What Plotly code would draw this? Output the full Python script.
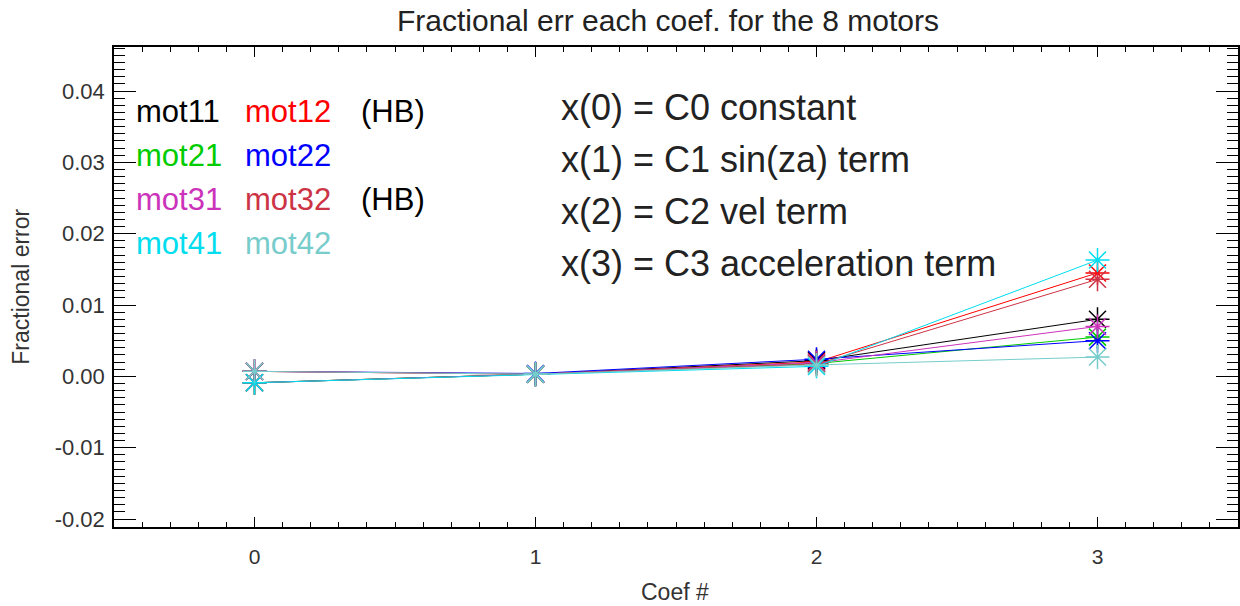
import plotly.graph_objects as go

coef = [0, 1, 2, 3]
mot11 = [-0.0009, 0.0003, 0.0022, 0.0080]
mot12 = [0.0007, 0.0003, 0.0020, 0.0145]
mot21 = [-0.0009, 0.0003, 0.0018, 0.0055]
mot22 = [0.0007, 0.0004, 0.0024, 0.0050]
mot31 = [-0.0009, 0.0003, 0.0019, 0.0070]
mot32 = [0.0007, 0.0003, 0.0017, 0.0136]
mot41 = [-0.0009, 0.0003, 0.0014, 0.0163]
mot42 = [0.0007, 0.0003, 0.0016, 0.0027]

names = ["mot11", "mot12", "mot21", "mot22", "mot31", "mot32", "mot41", "mot42"]
series = [mot11, mot12, mot21, mot22, mot31, mot32, mot41, mot42]
colors = ["#000000", "#ff0000", "#00cc00", "#0000ff",
          "#cc33bb", "#cc3344", "#00ddee", "#77cccc"]

y_ticks = [-0.02, -0.01, 0.0, 0.01, 0.02, 0.03, 0.04]
y_ticklabels = ["-0.02", "-0.01", "0.00", "0.01", "0.02", "0.03", "0.04"]
x_ticks = [0, 1, 2, 3]
x_ticklabels = ["0", "1", "2", "3"]

notes = ["x(0) = C0 constant", "x(1) = C1 sin(za) term",
         "x(2) = C2 vel term", "x(3) = C3 acceleration term"]

FONT = "Liberation Sans, Arial, Helvetica, sans-serif"
XR = [-0.5, 3.5]
YR = [-0.02112, 0.04617]

fig = go.Figure()
for name, vals, col in zip(names, series, colors):
    fig.add_trace(go.Scatter(
        x=coef, y=vals, mode="lines+markers", name=name,
        line=dict(color=col, width=1),
        marker=dict(symbol="asterisk-open", size=20,
                    line=dict(color=col, width=1.5)),
        showlegend=False))

# invisible trace so the top/right minor-tick axes get drawn
fig.add_trace(go.Scatter(x=coef, y=mot11, xaxis="x2", yaxis="y2",
                         mode="markers", marker=dict(opacity=0),
                         hoverinfo="skip", showlegend=False))

# legend-like text block
col_x = [0.018, 0.115]
row_y = [0.866, 0.774, 0.683, 0.591]
for i, (name, col) in enumerate(zip(names, colors)):
    r, c = divmod(i, 2)
    fig.add_annotation(xref="paper", yref="paper", x=col_x[c], y=row_y[r],
                       text=name, showarrow=False, xanchor="left",
                       yanchor="middle", font=dict(size=31, color=col, family=FONT))
for r in (0, 2):
    fig.add_annotation(xref="paper", yref="paper", x=0.218, y=row_y[r],
                       text="(HB)", showarrow=False, xanchor="left",
                       yanchor="middle", font=dict(size=31, color="#000000", family=FONT))

note_y = [0.874, 0.766, 0.658, 0.549]
for t, yy in zip(notes, note_y):
    fig.add_annotation(xref="paper", yref="paper", x=0.396, y=yy,
                       text=t, showarrow=False, xanchor="left",
                       yanchor="middle", font=dict(size=36, color="#222222", family=FONT))

# title and axis titles
fig.add_annotation(xref="paper", yref="paper", x=0.493, y=1.0556,
                   text="Fractional err each coef. for the 8 motors", showarrow=False,
                   xanchor="center", yanchor="middle",
                   font=dict(size=30, color="#222222", family=FONT))
fig.add_annotation(xref="paper", yref="paper", x=0.499, y=-0.136,
                   text="Coef #", showarrow=False,
                   xanchor="center", yanchor="middle",
                   font=dict(size=23, color="#333333", family=FONT))
fig.add_annotation(xref="paper", yref="paper", x=-0.083, y=0.5,
                   text="Fractional error", showarrow=False, textangle=-90,
                   xanchor="center", yanchor="middle",
                   font=dict(size=23, color="#333333", family=FONT))

fig.update_layout(
    width=1240, height=606,
    margin=dict(l=114, r=2, t=47, b=79),
    paper_bgcolor="white", plot_bgcolor="white",
    font=dict(family=FONT, color="#222222"),
    xaxis=dict(
        range=XR, tickmode="array", tickvals=x_ticks, ticktext=x_ticklabels,
        ticks="inside", ticklen=10, tickwidth=1.2, tickcolor="#000000",
        minor=dict(ticks="inside", ticklen=5, dtick=0.1, tickcolor="#000000", tickwidth=1),
        showline=True, linecolor="#000000", linewidth=1.5, mirror="allticks",
        showgrid=False, zeroline=False, automargin=False,
        tickfont=dict(size=21, color="#333333"), ticklabelstandoff=10,
    ),
    yaxis=dict(
        range=YR, tickmode="array", tickvals=y_ticks, ticktext=y_ticklabels,
        ticks="inside", ticklen=22, tickwidth=1.2, tickcolor="#000000",
        minor=dict(ticks="inside", ticklen=11, dtick=0.001, tickcolor="#000000", tickwidth=1),
        showline=True, linecolor="#000000", linewidth=1.5, mirror="allticks",
        showgrid=False, zeroline=False, automargin=False,
        tickfont=dict(size=22, color="#333333"), ticklabelstandoff=3,
    ),
    # top / right minor ticks
    xaxis2=dict(
        range=XR, overlaying="x", side="top", anchor="y",
        tickmode="linear", tick0=-0.5, dtick=0.1, showticklabels=False,
        ticks="inside", ticklen=5, tickwidth=1, tickcolor="#000000",
        showline=False, showgrid=False, zeroline=False, automargin=False,
    ),
    yaxis2=dict(
        range=YR, overlaying="y", side="right", anchor="x",
        tickmode="linear", tick0=-0.02, dtick=0.001, showticklabels=False,
        ticks="inside", ticklen=11, tickwidth=1, tickcolor="#000000",
        showline=False, showgrid=False, zeroline=False, automargin=False,
    ),
)

fig.write_html("out.html", config={"displayModeBar": False},
               post_script="document.body.style.margin='0';")
